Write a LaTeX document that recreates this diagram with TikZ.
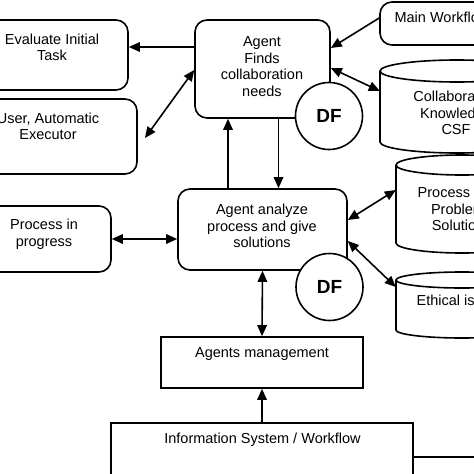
\documentclass[tikz,border=0pt]{standalone}
\usepackage{fontspec}
\setmainfont{Liberation Sans}
\usetikzlibrary{arrows.meta}
\begin{document}
\begin{tikzpicture}[x=1pt,y=-1pt,
 ln/.style={line width=1.6pt},
 rbox/.style={draw, ln, rounded corners=12pt, inner sep=0pt},
 sbox/.style={draw, ln, inner sep=0pt},
 body/.style={inner sep=0pt},
 txt/.style={align=center, inner sep=0pt, font=\fontsize{14.5}{16.5}\selectfont},
 dfc/.style={circle, draw, ln, fill=white, minimum size=67pt, inner sep=0pt, font=\bfseries\fontsize{19}{19}\selectfont},
 arr/.style={ln, -{Triangle[length=11pt,width=9.5pt]}},
 darr/.style={ln, {Triangle[length=11pt,width=9.5pt]}-{Triangle[length=11pt,width=9.5pt]}}]
\useasboundingbox (0,0) rectangle (474,474);
\clip (0,0) rectangle (474,474);
\fill[white] (0,0) rectangle (474,474);

% boxes
\node[rbox, minimum width=152pt, minimum height=70pt] (eval) at (52,55) {};
\node[rbox, minimum width=178pt, minimum height=75pt] (user) at (48,136.5) {};
\node[rbox, minimum width=134pt, minimum height=66pt] (prog) at (44,239) {};
\node[rbox, minimum width=135pt, minimum height=98pt] (finds) at (262.5,69) {};
\node[rbox, minimum width=169pt, minimum height=81pt] (analyze) at (262.5,229.5) {};
\node[sbox, minimum width=202pt, minimum height=51pt] (mgmt) at (262,362.5) {};
\node[sbox, minimum width=302pt, minimum height=77pt] (info) at (262,461.5) {};
\node[rbox, minimum width=124pt, minimum height=43pt] (mainwf) at (442,23.5) {};

% cylinders
\node[body, minimum width=154pt, minimum height=93pt] (collab) at (457,106.5) {};
\draw[ln] (380,71) -- (380,142) arc[start angle=180, end angle=360, x radius=77pt, y radius=11pt] -- (534,71);
\draw[ln] (457,71) ellipse[x radius=77pt, y radius=11pt];
\node[body, minimum width=132pt, minimum height=98pt] (procsol) at (462,204) {};
\draw[ln] (396,165) -- (396,243) arc[start angle=180, end angle=360, x radius=66pt, y radius=10pt] -- (528,165);
\draw[ln] (462,165) ellipse[x radius=66pt, y radius=10pt];
\node[body, minimum width=132pt, minimum height=66pt] (ethic) at (462,305) {};
\draw[ln] (396,280) -- (396,330) arc[start angle=180, end angle=360, x radius=66pt, y radius=8pt] -- (528,280);
\draw[ln] (462,280) ellipse[x radius=66pt, y radius=8pt];

% DF circles
\node[dfc] (df1) at (329,116) {DF};
\node[dfc] (df2) at (329.5,287) {DF};

% texts
\node[txt] (teval) at (52,47.5) {Evaluate Initial\\Task};
\node[txt] (tuser) at (48,126.5) {User, Automatic\\Executor};
\node[txt] (tprog) at (44,234) {Process in\\progress};
\node[txt] (tfinds) at (262,66.5) {Agent\\Finds\\collaboration\\needs};
\node[txt] (tanalyze) at (262,226) {Agent analyze\\process and give\\solutions};
\node[txt] (tmgmt) at (262,354) {Agents management};
\node[txt] (tinfo) at (262.5,440) {Information System / Workflow};
\node[txt] (tmainwf) at (442,17) {Main Workflow};
\node[txt] (tcollab) at (456,113) {Collaboration\\Knowledge\\CSF};
\node[txt] (tprocsol) at (458,209) {Process and\\Problem\\Solution};
\node[txt] (tethic) at (461,300) {Ethical issues};

% connectors
\coordinate (userpt) at (145,138);
\coordinate (infoout) at (490,457);
\draw[arr] ([yshift=22pt]finds.west) -- ([yshift=22pt]finds.west -| eval.east);
\draw[darr] ([yshift=-1pt]finds.west) -- (userpt);
\draw[arr] ([xshift=-34.5pt]analyze.north) -- ([xshift=-34.5pt]finds.south);
\draw[arr] ([xshift=16pt]finds.south) -- ([xshift=16pt]analyze.north);
\draw[darr] (prog.east) -- (prog.east -| analyze.west);
\draw[arr] ([yshift=5.5pt]mainwf.west) -- ([yshift=21pt]finds.east);
\draw[darr] ([yshift=1pt]finds.east) -- ([yshift=15.5pt]collab.west);
\draw[darr] ([yshift=9.5pt]analyze.east) -- ([yshift=14pt]procsol.west);
\draw[darr] ([yshift=-11.5pt]analyze.east) -- ([yshift=18pt]ethic.west);
\draw[darr] (analyze.south) -- (mgmt.north);
\draw[arr] (info.north) -- (mgmt.south);
\draw[ln] ([yshift=4.5pt]info.east) -- (infoout);
\end{tikzpicture}
\end{document}
